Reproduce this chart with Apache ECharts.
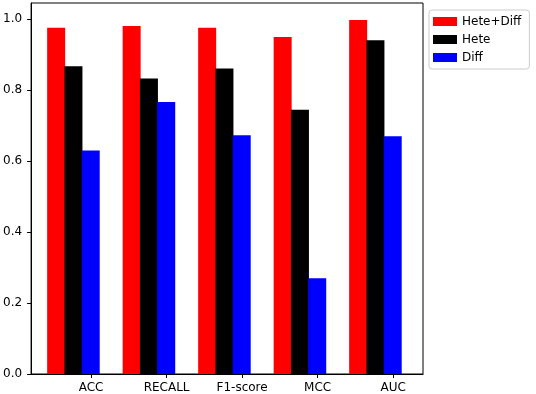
<!DOCTYPE html>
<html>
<head>
<meta charset="utf-8">
<script src="https://cdn.jsdelivr.net/npm/echarts@6/dist/echarts.min.js"></script>
<style>
  html, body { margin: 0; padding: 0; background: #fff; }
  #chart { width: 536px; height: 394px; }
</style>
</head>
<body>
<div id="chart"></div>
<script>
// data
const categories = ['ACC', 'RECALL', 'F1-score', 'MCC', 'AUC']
const heteDiff = [0.976, 0.981, 0.976, 0.950, 0.998]
const hete = [0.868, 0.833, 0.861, 0.745, 0.941]
const diff = [0.630, 0.767, 0.673, 0.270, 0.670]
const yTicks = [0, 0.2, 0.4, 0.6, 0.8, 1.0]

// bar width in group units (tick sits under the last bar)
const BAR_W = 0.234
const xTicks = categories.map((_, i) => i + BAR_W)

const toPoints = (vals) => vals.map((v, i) => [i, v])

const chart = echarts.init(document.getElementById('chart'))

const font = { fontFamily: 'DejaVu Sans', fontSize: 12, color: '#000' }

const barSeries = (name, color, vals) => ({
  name,
  type: 'bar',
  barWidth: 18,
  barGap: '-4%',
  itemStyle: { color },
  data: toPoints(vals),
})

const option = {
  animation: false,
  textStyle: { fontFamily: 'DejaVu Sans' },
  grid: {
    left: 30,
    top: 3,
    width: 393,
    height: 371,
    show: true,
    borderColor: '#000',
    borderWidth: 1,
  },
  legend: {
    orient: 'vertical',
    left: 429,
    top: 10,
    icon: 'rect',
    itemWidth: 24,
    itemHeight: 9,
    itemGap: 3,
    padding: [4, 8, 4, 4],
    borderColor: '#ccc',
    borderWidth: 1,
    borderRadius: 3,
    textStyle: { ...font, lineHeight: 15 },
    data: ['Hete+Diff', 'Hete', 'Diff'],
  },
  xAxis: {
    type: 'value',
    min: -0.561,
    max: 4.63,
    splitLine: { show: false },
    axisLine: { show: true, onZero: false, lineStyle: { color: '#000', width: 1 } },
    axisTick: { show: true, length: 4, customValues: xTicks, lineStyle: { color: '#000' } },
    axisLabel: {
      ...font,
      margin: 8,
      customValues: xTicks,
      formatter: (v) => categories[Math.round(v - BAR_W)],
    },
  },
  yAxis: {
    type: 'value',
    min: 0,
    max: 1.046,
    splitLine: { show: false },
    axisLine: { show: true, onZero: false, lineStyle: { color: '#000', width: 1 } },
    axisTick: { show: true, length: 4, customValues: yTicks, lineStyle: { color: '#000' } },
    axisLabel: {
      ...font,
      margin: 9,
      customValues: yTicks,
      formatter: (v) => v.toFixed(1),
    },
  },
  series: [
    barSeries('Hete+Diff', '#ff0000', heteDiff),
    barSeries('Hete', '#000000', hete),
    barSeries('Diff', '#0000ff', diff),
  ],
}

chart.setOption(option)
</script>
</body>
</html>
